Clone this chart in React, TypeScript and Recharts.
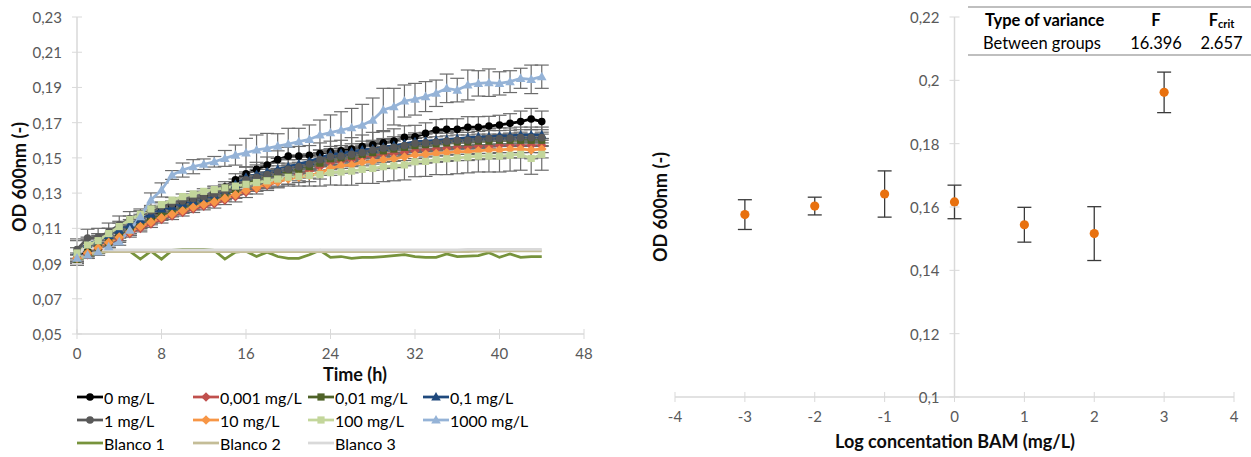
import React from 'react';
import { ErrorBar, Line, LineChart, ReferenceLine, Scatter, ScatterChart, XAxis, YAxis } from 'recharts';

const FONT = 'Lato, "Open Sans", sans-serif';
const AXIS_GREY = '#D9D9D9';
const TICK_TEXT = '#595959';
const TITLE = '#0d0d0d';

// ---------- left chart: growth curves (OD600 vs time) ----------
const hours = [
  0, 1, 2, 3, 4, 5, 6, 7, 8, 9, 10, 11, 12, 13, 14, 15, 16, 17, 18, 19, 20, 21, 22,
  23, 24, 25, 26, 27, 28, 29, 30, 31, 32, 33, 34, 35, 36, 37, 38, 39, 40, 41, 42, 43, 44,
];
const timeTicks = [0, 8, 16, 24, 32, 40, 48];
const odTicks = [0.05, 0.07, 0.09, 0.11, 0.13, 0.15, 0.17, 0.19, 0.21, 0.23];

const od0 = [
  0.093, 0.097, 0.099, 0.102, 0.106, 0.109, 0.112, 0.116, 0.12, 0.1225,
  0.1245, 0.1265, 0.1285, 0.1305, 0.1335, 0.1375, 0.141, 0.1435, 0.146, 0.149,
  0.151, 0.151, 0.1515, 0.1525, 0.1535, 0.154, 0.155, 0.1565, 0.1575, 0.1585,
  0.1595, 0.1617, 0.162, 0.1639, 0.1658, 0.1662, 0.1662, 0.1674, 0.1674, 0.1681,
  0.1687, 0.1696, 0.1706, 0.1721, 0.1706,
];
const sd0 = [
  0.003, 0.003, 0.003, 0.003, 0.003, 0.002, 0.002, 0.002, 0.002, 0.002,
  0.002, 0.002, 0.0025, 0.003, 0.003, 0.0035, 0.004, 0.004, 0.0045, 0.005,
  0.005, 0.0055, 0.0055, 0.006, 0.006, 0.006, 0.0065, 0.0065, 0.007, 0.007,
  0.007, 0.0065, 0.0065, 0.006, 0.006, 0.006, 0.006, 0.006, 0.006, 0.0055,
  0.0055, 0.0055, 0.006, 0.006, 0.006,
];
const od0001 = [
  0.093, 0.095, 0.098, 0.101, 0.104, 0.107, 0.11, 0.1125, 0.115, 0.117,
  0.119, 0.121, 0.1225, 0.124, 0.126, 0.128, 0.1305, 0.1325, 0.1345, 0.1365,
  0.1385, 0.1405, 0.1425, 0.145, 0.1473, 0.148, 0.149, 0.15, 0.151, 0.152,
  0.1525, 0.153, 0.1541, 0.1545, 0.155, 0.1555, 0.156, 0.156, 0.1565, 0.1565,
  0.157, 0.157, 0.157, 0.157, 0.157,
];
const sd0001 = [
  0.002, 0.002, 0.002, 0.002, 0.002, 0.002, 0.002, 0.002, 0.002, 0.002,
  0.002, 0.002, 0.002, 0.0025, 0.0025, 0.003, 0.003, 0.003, 0.003, 0.0035,
  0.0035, 0.0035, 0.004, 0.004, 0.004, 0.004, 0.004, 0.0045, 0.0045, 0.0045,
  0.0045, 0.0045, 0.0045, 0.004, 0.004, 0.004, 0.004, 0.004, 0.004, 0.004,
  0.004, 0.004, 0.004, 0.004, 0.004,
];
const od001 = [
  0.092, 0.096, 0.099, 0.102, 0.106, 0.109, 0.112, 0.115, 0.1175, 0.12,
  0.122, 0.124, 0.1255, 0.127, 0.129, 0.132, 0.136, 0.1375, 0.139, 0.1405,
  0.142, 0.1435, 0.145, 0.147, 0.1495, 0.15, 0.151, 0.152, 0.153, 0.154,
  0.155, 0.156, 0.157, 0.1575, 0.158, 0.1585, 0.159, 0.159, 0.1595, 0.1595,
  0.16, 0.16, 0.16, 0.16, 0.16,
];
const sd001 = [
  0.003, 0.003, 0.003, 0.003, 0.003, 0.002, 0.002, 0.002, 0.002, 0.002,
  0.002, 0.002, 0.002, 0.002, 0.0025, 0.003, 0.003, 0.003, 0.003, 0.0035,
  0.0035, 0.004, 0.004, 0.004, 0.004, 0.004, 0.0045, 0.0045, 0.0045, 0.0045,
  0.0045, 0.0045, 0.004, 0.004, 0.004, 0.004, 0.004, 0.004, 0.004, 0.004,
  0.0035, 0.0035, 0.0035, 0.0035, 0.0035,
];
const od01 = [
  0.097, 0.101, 0.103, 0.106, 0.109, 0.112, 0.115, 0.118, 0.121, 0.1225,
  0.124, 0.1255, 0.127, 0.129, 0.1315, 0.135, 0.139, 0.1405, 0.142, 0.1435,
  0.145, 0.1465, 0.148, 0.15, 0.152, 0.1525, 0.1535, 0.1545, 0.155, 0.156,
  0.157, 0.158, 0.1592, 0.1595, 0.16, 0.1605, 0.161, 0.1615, 0.162, 0.162,
  0.1625, 0.1625, 0.163, 0.163, 0.163,
];
const sd01 = [
  0.006, 0.004, 0.004, 0.004, 0.004, 0.003, 0.003, 0.002, 0.002, 0.002,
  0.002, 0.002, 0.002, 0.002, 0.0025, 0.003, 0.003, 0.003, 0.0035, 0.0035,
  0.004, 0.004, 0.004, 0.0045, 0.0045, 0.0045, 0.0045, 0.005, 0.005, 0.005,
  0.005, 0.005, 0.005, 0.005, 0.0045, 0.0045, 0.0045, 0.0045, 0.0045, 0.0045,
  0.0045, 0.0045, 0.0045, 0.0045, 0.0045,
];
const od1 = [
  0.098, 0.1045, 0.105, 0.108, 0.112, 0.1155, 0.118, 0.12, 0.1225, 0.124,
  0.1255, 0.127, 0.128, 0.1295, 0.131, 0.1335, 0.1375, 0.139, 0.1405, 0.142,
  0.1435, 0.145, 0.1465, 0.149, 0.1507, 0.151, 0.152, 0.153, 0.1545, 0.1555,
  0.156, 0.157, 0.1583, 0.1585, 0.159, 0.1595, 0.16, 0.16, 0.1605, 0.161,
  0.161, 0.1612, 0.1615, 0.1615, 0.1615,
];
const sd1 = [
  0.006, 0.005, 0.005, 0.005, 0.005, 0.004, 0.003, 0.002, 0.002, 0.0015,
  0.0015, 0.0015, 0.0015, 0.0015, 0.002, 0.002, 0.0025, 0.003, 0.003, 0.0035,
  0.0035, 0.004, 0.004, 0.004, 0.0045, 0.0045, 0.0045, 0.005, 0.005, 0.005,
  0.005, 0.005, 0.005, 0.005, 0.005, 0.0045, 0.0045, 0.0045, 0.0045, 0.0045,
  0.0045, 0.0045, 0.0045, 0.0045, 0.0045,
];
const od10 = [
  0.093, 0.096, 0.099, 0.102, 0.105, 0.108, 0.111, 0.1135, 0.116, 0.118,
  0.12, 0.122, 0.1235, 0.125, 0.127, 0.129, 0.1315, 0.133, 0.135, 0.1365,
  0.138, 0.139, 0.14, 0.1415, 0.1441, 0.1455, 0.146, 0.1475, 0.148, 0.149,
  0.1495, 0.1505, 0.1516, 0.152, 0.1525, 0.153, 0.1535, 0.1535, 0.154, 0.1545,
  0.1545, 0.155, 0.155, 0.1545, 0.155,
];
const sd10 = [
  0.002, 0.002, 0.002, 0.002, 0.002, 0.002, 0.002, 0.0015, 0.0015, 0.0015,
  0.0015, 0.0015, 0.0015, 0.0015, 0.0015, 0.002, 0.002, 0.002, 0.0025, 0.0025,
  0.003, 0.003, 0.0035, 0.0035, 0.004, 0.004, 0.0045, 0.0045, 0.005, 0.005,
  0.005, 0.005, 0.005, 0.005, 0.005, 0.005, 0.005, 0.005, 0.005, 0.005,
  0.005, 0.005, 0.005, 0.005, 0.005,
];
const od100 = [
  0.096, 0.1005, 0.103, 0.107, 0.111, 0.115, 0.118, 0.121, 0.1235, 0.126,
  0.128, 0.1295, 0.131, 0.132, 0.133, 0.134, 0.135, 0.136, 0.137, 0.138,
  0.139, 0.1395, 0.14, 0.1405, 0.1416, 0.142, 0.1425, 0.1435, 0.144, 0.145,
  0.1455, 0.146, 0.1478, 0.148, 0.149, 0.1495, 0.15, 0.1505, 0.151, 0.151,
  0.151, 0.1515, 0.152, 0.1497, 0.152,
];
const sd100 = [
  0.003, 0.003, 0.003, 0.003, 0.003, 0.002, 0.002, 0.002, 0.0015, 0.0015,
  0.0015, 0.0015, 0.0015, 0.002, 0.002, 0.0025, 0.003, 0.0035, 0.004, 0.0045,
  0.005, 0.0055, 0.006, 0.0065, 0.007, 0.0075, 0.008, 0.008, 0.0085, 0.0085,
  0.0085, 0.0085, 0.0085, 0.0085, 0.0085, 0.009, 0.009, 0.009, 0.009, 0.009,
  0.009, 0.009, 0.009, 0.009, 0.009,
];
const od1000 = [
  0.0931, 0.0949, 0.0967, 0.0996, 0.1024, 0.109, 0.1166, 0.1261, 0.1318, 0.1403,
  0.1431, 0.145, 0.1464, 0.1478, 0.1497, 0.1516, 0.1529, 0.1545, 0.1554, 0.1567,
  0.1579, 0.1592, 0.1605, 0.163, 0.1643, 0.1658, 0.1671, 0.1686, 0.1715, 0.1772,
  0.1791, 0.1823, 0.1833, 0.1848, 0.1867, 0.1895, 0.1885, 0.1914, 0.1923, 0.1927,
  0.1923, 0.1933, 0.1952, 0.1946, 0.1961,
];
const sd1000 = [
  0.002, 0.002, 0.002, 0.002, 0.002, 0.003, 0.003, 0.004, 0.004, 0.0025,
  0.004, 0.004, 0.003, 0.003, 0.0045, 0.0057, 0.0082, 0.0085, 0.0085, 0.007,
  0.0089, 0.0076, 0.0082, 0.0085, 0.0101, 0.0104, 0.011, 0.0118, 0.0125, 0.0123,
  0.0104, 0.0091, 0.009, 0.0085, 0.0075, 0.0081, 0.0067, 0.0085, 0.0072, 0.0078,
  0.0066, 0.0062, 0.0057, 0.0081, 0.0066,
];
const blanco1 = [
  0.0915, 0.0945, 0.096, 0.097, 0.097, 0.097, 0.0925, 0.097, 0.0925, 0.0975,
  0.098, 0.098, 0.098, 0.0975, 0.0925, 0.0965, 0.097, 0.094, 0.0965, 0.094,
  0.093, 0.093, 0.095, 0.0975, 0.0935, 0.094, 0.093, 0.0935, 0.0935, 0.094,
  0.0945, 0.095, 0.094, 0.0935, 0.0935, 0.0955, 0.094, 0.0942, 0.0945, 0.0962,
  0.0935, 0.0955, 0.0935, 0.094, 0.094,
];
const blanco2 = [
  0.092, 0.095, 0.0965, 0.0968, 0.0968, 0.0968, 0.0968, 0.0968, 0.0968, 0.0968,
  0.0968, 0.0968, 0.0968, 0.0968, 0.0968, 0.0968, 0.0968, 0.0968, 0.0968, 0.0968,
  0.0968, 0.0968, 0.0968, 0.0968, 0.0968, 0.0968, 0.0968, 0.0968, 0.0968, 0.0968,
  0.0968, 0.0968, 0.0968, 0.0968, 0.0968, 0.0968, 0.0968, 0.0968, 0.097, 0.097,
  0.097, 0.0972, 0.0972, 0.0972, 0.0972,
];
const blanco3 = [
  0.0955, 0.0995, 0.098, 0.0978, 0.0978, 0.0978, 0.0978, 0.0978, 0.0978, 0.0978,
  0.0978, 0.0978, 0.0978, 0.0978, 0.0978, 0.0978, 0.0978, 0.0978, 0.0978, 0.0978,
  0.0978, 0.0978, 0.0978, 0.0978, 0.0978, 0.0978, 0.0978, 0.0978, 0.0978, 0.0978,
  0.0978, 0.0978, 0.0978, 0.0978, 0.0978, 0.0978, 0.0978, 0.098, 0.098, 0.098,
  0.098, 0.098, 0.098, 0.098, 0.098,
];

type Shape = 'circle' | 'diamond' | 'square' | 'triangle';

const curves: { key: string; name: string; color: string; shape: Shape; values: number[]; errors: number[] }[] = [
  { key: 'c0', name: '0 mg/L', color: '#000000', shape: 'circle', values: od0, errors: sd0 },
  { key: 'c0001', name: '0,001 mg/L', color: '#C0504D', shape: 'diamond', values: od0001, errors: sd0001 },
  { key: 'c001', name: '0,01 mg/L', color: '#4F6228', shape: 'square', values: od001, errors: sd001 },
  { key: 'c01', name: '0,1 mg/L', color: '#1F497D', shape: 'triangle', values: od01, errors: sd01 },
  { key: 'c1', name: '1 mg/L', color: '#595959', shape: 'circle', values: od1, errors: sd1 },
  { key: 'c10', name: '10 mg/L', color: '#F79646', shape: 'diamond', values: od10, errors: sd10 },
  { key: 'c100', name: '100 mg/L', color: '#C3D69B', shape: 'square', values: od100, errors: sd100 },
  { key: 'c1000', name: '1000 mg/L', color: '#95B3D7', shape: 'triangle', values: od1000, errors: sd1000 },
];

const blanks = [
  { key: 'b1', name: 'Blanco 1', color: '#77933C', values: blanco1 },
  { key: 'b2', name: 'Blanco 2', color: '#C4BD97', values: blanco2 },
  { key: 'b3', name: 'Blanco 3', color: '#D9D9D9', values: blanco3 },
];

const timeRows = hours.map((h, i) => {
  const row: Record<string, number> = { h };
  curves.forEach((c) => {
    row[c.key] = c.values[i];
    row[c.key + 'Err'] = c.errors[i];
  });
  blanks.forEach((b) => {
    row[b.key] = b.values[i];
  });
  return row;
});

// ---------- right chart: OD at the end vs log concentration ----------
const logConc = [-3, -2, -1, 0, 1, 2, 3];
const odEnd = [0.1576, 0.1603, 0.1641, 0.1616, 0.1544, 0.1516, 0.1962];
const odEndErr = [0.0047, 0.0028, 0.0073, 0.0053, 0.0055, 0.0085, 0.0064];
const logTicks = [-4, -3, -2, -1, 0, 1, 2, 3, 4];
const odRightTicks = [0.1, 0.12, 0.14, 0.16, 0.18, 0.2, 0.22];

const bamRows = logConc.map((x, i) => ({ x, y: odEnd[i], err: odEndErr[i] }));

const anovaHead = ['Type of variance', 'F', 'F'];
const anovaRow = ['Between groups', '16.396', '2.657'];

// layout of the right chart
const R_W = 631;
const R_LEFT = 55;
const R_RIGHT = 17;
const ZERO_X = R_LEFT + (R_W - R_LEFT - R_RIGHT) / 2;

const comma = (v: number) => String(Number(v.toFixed(2))).replace('.', ',');

function Marker({ shape, cx, cy, color }: { shape: Shape; cx: number; cy: number; color: string }) {
  if (cx == null || cy == null) return null;
  if (shape === 'circle') return <circle cx={cx} cy={cy} r={3.8} fill={color} />;
  if (shape === 'diamond')
    return <path d={`M${cx} ${cy - 4.8}L${cx + 4.8} ${cy}L${cx} ${cy + 4.8}L${cx - 4.8} ${cy}Z`} fill={color} />;
  if (shape === 'square') return <rect x={cx - 3.6} y={cy - 3.6} width={7.2} height={7.2} fill={color} />;
  return <path d={`M${cx} ${cy - 5}L${cx + 4.8} ${cy + 3.6}L${cx - 4.8} ${cy + 3.6}Z`} fill={color} />;
}

const LeftYTick = (p: any) => (
  <g>
    <line x1={p.x - 5} x2={p.x + 5} y1={p.y} y2={p.y} stroke={AXIS_GREY} />
    <text x={p.x - 15} y={p.y} textAnchor="end" dominantBaseline="central" fill={TICK_TEXT} fontSize={15} fontFamily={FONT}>
      {p.payload.value.toFixed(2).replace('.', ',')}
    </text>
  </g>
);

const BottomTick = (p: any) => (
  <g>
    <line x1={p.x} x2={p.x} y1={p.y - 5} y2={p.y + 5} stroke={AXIS_GREY} />
    <text x={p.x} y={p.y + 19} textAnchor="middle" dominantBaseline="central" fill={TICK_TEXT} fontSize={15} fontFamily={FONT}>
      {p.payload.value}
    </text>
  </g>
);

const RightYTick = (p: any) => (
  <g>
    <line x1={ZERO_X - 5} x2={ZERO_X + 5} y1={p.y} y2={p.y} stroke={AXIS_GREY} />
    <text x={ZERO_X - 15} y={p.y} textAnchor="end" dominantBaseline="central" fill={TICK_TEXT} fontSize={15} fontFamily={FONT}>
      {comma(p.payload.value)}
    </text>
  </g>
);

function Title({ x, y, text, rotate }: { x: number; y: number; text: string; rotate?: boolean }) {
  return (
    <div
      style={{
        position: 'absolute',
        left: x,
        top: y,
        transform: `translate(-50%, -50%)${rotate ? ' rotate(-90deg)' : ''}`,
        whiteSpace: 'nowrap',
        fontWeight: 700,
        fontSize: 18,
        color: TITLE,
        lineHeight: 1,
      }}
    >
      {text}
    </div>
  );
}

const legendCols = [77, 193, 308, 423];
const legendRows = [397, 420, 443];

function LegendItem({ x, y, color, shape, name }: { x: number; y: number; color: string; shape?: Shape; name: string }) {
  return (
    <div style={{ position: 'absolute', left: x, top: y - 10, height: 20, display: 'flex', alignItems: 'center', whiteSpace: 'nowrap' }}>
      <svg width={26} height={12} style={{ display: 'block' }}>
        <line x1={0} x2={26} y1={6} y2={6} stroke={color} strokeWidth={2.75} />
        {shape && <Marker shape={shape} cx={13} cy={6} color={color} />}
      </svg>
      <span style={{ fontSize: 16, color: '#000', marginLeft: 1 }}>{name}</span>
    </div>
  );
}

function GrowthChart() {
  return (
    <LineChart width={600} height={457} data={timeRows} margin={{ top: 17, right: 16, left: 0, bottom: 93 }}>
      <XAxis
        dataKey="h"
        type="number"
        domain={[0, 48]}
        ticks={timeTicks}
        interval={0}
        tickSize={0}
        tickMargin={0}
        tickLine={false}
        axisLine={{ stroke: AXIS_GREY, strokeWidth: 1.5 }}
        tick={BottomTick}
        height={30}
      />
      <YAxis
        type="number"
        domain={[0.05, 0.23]}
        ticks={odTicks}
        interval={0}
        width={77}
        tickSize={0}
        tickMargin={0}
        tickLine={false}
        axisLine={{ stroke: AXIS_GREY, strokeWidth: 1.5 }}
        tick={LeftYTick}
        allowDataOverflow
      />
      {curves.map((c) => (
        <Line
          key={c.key}
          dataKey={c.key}
          stroke={c.color}
          strokeWidth={2.75}
          isAnimationActive={false}
          dot={(p: any) => <Marker key={`${c.key}-${p.index}`} shape={c.shape} cx={p.cx} cy={p.cy} color={c.color} />}
          activeDot={false}
        >
          <ErrorBar dataKey={c.key + 'Err'} direction="y" width={7} stroke="#6b6b6b" strokeWidth={1.2} isAnimationActive={false} />
        </Line>
      ))}
      {blanks.map((b) => (
        <Line
          key={b.key}
          dataKey={b.key}
          stroke={b.color}
          strokeWidth={2.75}
          dot={false}
          activeDot={false}
          isAnimationActive={false}
        />
      ))}
    </LineChart>
  );
}

function DoseChart() {
  return (
    <ScatterChart width={R_W} height={457} margin={{ top: 17, right: R_RIGHT, left: 0, bottom: 30 }}>
      <XAxis
        dataKey="x"
        type="number"
        domain={[-4, 4]}
        ticks={logTicks}
        interval={0}
        tickSize={0}
        tickMargin={0}
        tickLine={false}
        axisLine={{ stroke: AXIS_GREY, strokeWidth: 1.5 }}
        tick={BottomTick}
        height={30}
      />
      <YAxis
        dataKey="y"
        type="number"
        domain={[0.1, 0.22]}
        ticks={odRightTicks}
        interval={0}
        width={R_LEFT}
        tickSize={0}
        tickMargin={0}
        tickLine={false}
        axisLine={false}
        tick={RightYTick}
        allowDataOverflow
      />
      <ReferenceLine x={0} stroke={AXIS_GREY} strokeWidth={1.5} />
      <Scatter
        data={bamRows}
        fill="#E8710F"
        isAnimationActive={false}
        shape={(p: any) => <circle cx={p.cx} cy={p.cy} r={4.6} fill="#E8710F" />}
      >
        <ErrorBar dataKey="err" direction="y" width={7} stroke="#3a3a3a" strokeWidth={1.3} isAnimationActive={false} />
      </Scatter>
    </ScatterChart>
  );
}

export default function App() {
  const cell: React.CSSProperties = { padding: 0, height: 23, textAlign: 'center' };
  return (
    <div style={{ position: 'absolute', left: 0, top: 0, width: 1251, height: 457, background: '#fff', fontFamily: FONT, overflow: 'hidden' }}>
      <div style={{ position: 'absolute', left: 0, top: 0 }}>
        <GrowthChart />
      </div>
      <div style={{ position: 'absolute', left: 620, top: 0 }}>
        <DoseChart />
      </div>

      <Title x={19} y={177} text="OD 600nm (-)" rotate />
      <Title x={355} y={374} text="Time (h)" />
      <Title x={660} y={207} text="OD 600nm (-)" rotate />
      <Title x={955} y={441} text="Log concentation BAM (mg/L)" />

      {curves.map((c, i) => (
        <LegendItem key={c.key} x={legendCols[i % 4]} y={legendRows[Math.floor(i / 4)]} color={c.color} shape={c.shape} name={c.name} />
      ))}
      {blanks.map((b, i) => (
        <LegendItem key={b.key} x={legendCols[i]} y={legendRows[2]} color={b.color} name={b.name} />
      ))}

      <table
        style={{
          position: 'absolute',
          left: 968,
          top: 6,
          width: 283,
          borderCollapse: 'collapse',
          borderTop: '2px solid #BFBFBF',
          borderBottom: '2px solid #BFBFBF',
          fontSize: 16.5,
          color: '#000',
          tableLayout: 'fixed',
        }}
      >
        <colgroup>
          <col style={{ width: 152 }} />
          <col style={{ width: 72 }} />
          <col style={{ width: 59 }} />
        </colgroup>
        <tbody>
          <tr style={{ fontWeight: 700 }}>
            <td style={{ ...cell, textAlign: 'left', paddingLeft: 17 }}>{anovaHead[0]}</td>
            <td style={cell}>{anovaHead[1]}</td>
            <td style={cell}>
              {anovaHead[2]}
              <sub style={{ fontSize: 11, verticalAlign: 'baseline', position: 'relative', top: 2 }}>crit</sub>
            </td>
          </tr>
          <tr>
            <td style={{ ...cell, textAlign: 'left', paddingLeft: 15 }}>{anovaRow[0]}</td>
            <td style={cell}>{anovaRow[1]}</td>
            <td style={cell}>{anovaRow[2]}</td>
          </tr>
        </tbody>
      </table>
    </div>
  );
}
